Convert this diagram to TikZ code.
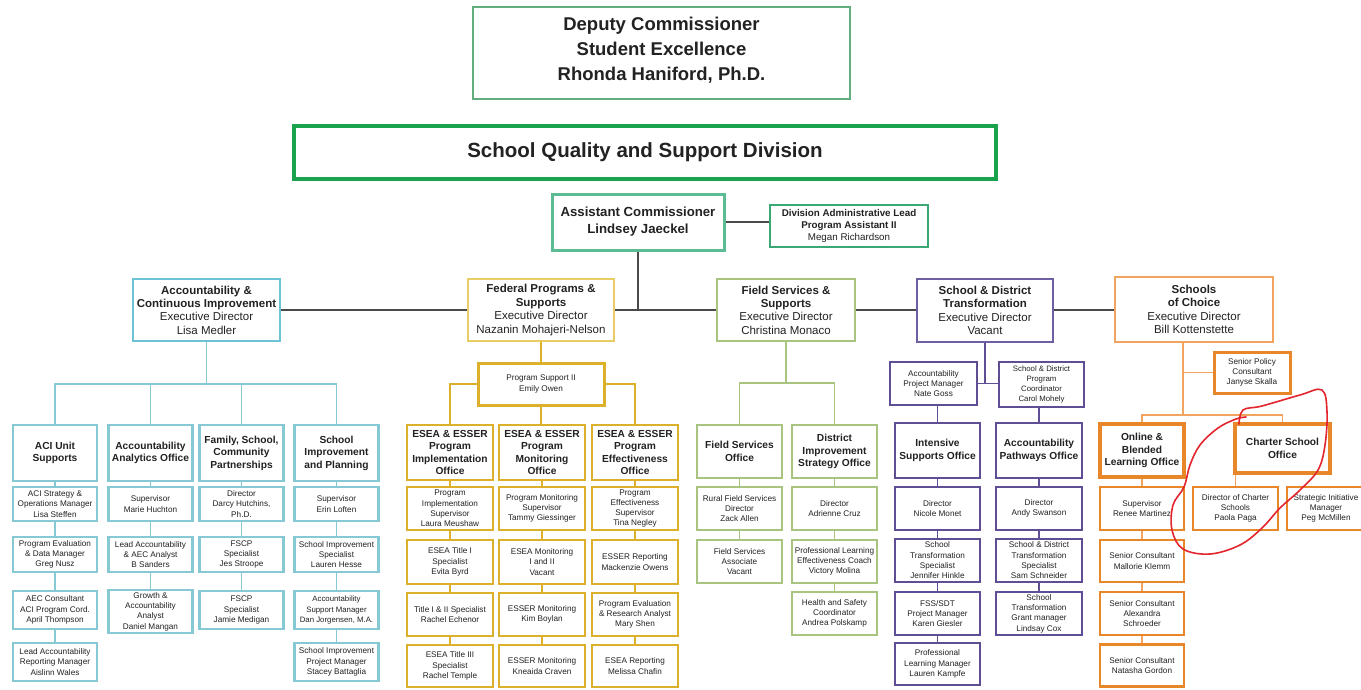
\documentclass[tikz,border=0pt]{standalone}
\usepackage{fontspec}
\setmainfont{Liberation Sans}
\definecolor{txt}{HTML}{222222}
\definecolor{depB}{HTML}{62AD7E}
\definecolor{sqdB}{HTML}{1BA24C}
\definecolor{ascB}{HTML}{5DBB94}
\definecolor{dalB}{HTML}{3AA775}
\definecolor{tealE}{HTML}{6CC3D3}
\definecolor{tealB}{HTML}{86C9D4}
\definecolor{goldE}{HTML}{E7CD63}
\definecolor{goldB}{HTML}{DDB02C}
\definecolor{fieldB}{HTML}{A8C47E}
\definecolor{purpE}{HTML}{6E5FA3}
\definecolor{purpB}{HTML}{5F4E96}
\definecolor{orgE}{HTML}{F1A45F}
\definecolor{orgB}{HTML}{E8872A}
\definecolor{busC}{HTML}{4A4A4A}
\definecolor{loopC}{HTML}{E3262E}
\tikzset{
 bx/.style={draw, fill=white, align=center, inner sep=0pt, text=txt},
 sm/.style={font=\fontsize{8.2}{10.3}\selectfont},
 hd/.style={font=\bfseries\fontsize{10.2}{12.6}\selectfont},
 ex/.style={font=\fontsize{11.5}{13.4}\selectfont},
 execbox/.style={bx, ex, line width=2.3pt, minimum height=62pt},
 tb/.style={bx, draw=tealB, line width=2.4pt, minimum width=84pt},
 gb/.style={bx, draw=goldB, line width=2.8pt, minimum width=86pt},
 fb/.style={bx, draw=fieldB, line width=2.8pt, minimum width=85pt},
 pb/.style={bx, draw=purpB, line width=2.8pt, minimum width=85pt},
 ob/.style={bx, draw=orgB, line width=3.2pt, minimum width=84pt},
 bus/.style={draw=busC, line width=1.3pt},
 tl/.style={draw=tealB, line width=1.5pt},
 gl/.style={draw=goldB, line width=1.5pt},
 fl/.style={draw=fieldB, line width=1.5pt},
 pl/.style={draw=purpB, line width=1.5pt},
 ol/.style={draw=orgE, line width=1.5pt},
}
\begin{document}
\begin{tikzpicture}[x=1pt,y=-1pt]
\useasboundingbox (0,0) rectangle (1361,689);
\fill[white] (0,0) rectangle (1361,689);

% ---------- top ----------
\node[bx, draw=depB, line width=2.6pt, minimum width=377pt, minimum height=92pt,
  font=\bfseries\fontsize{18.5}{25}\selectfont] (dep) at (661.5,53)
  {Deputy Commissioner\\Student Excellence\\Rhonda Haniford, Ph.D.\\[-17pt]\mbox{}};
\node[bx, draw=sqdB, line width=4.5pt, minimum width=702pt, minimum height=53pt,
  font=\bfseries\fontsize{20.5}{24}\selectfont] (sqd) at (645,152.5)
  {School Quality and Support Division};
\node[bx, draw=ascB, line width=3pt, minimum width=172pt, minimum height=56pt,
  font=\bfseries\fontsize{13.2}{17}\selectfont] (asc) at (638,222)
  {Assistant Commissioner\\Lindsey Jaeckel};
\node[bx, draw=dalB, line width=2.4pt, minimum width=158pt, minimum height=42pt,
  font=\fontsize{9.8}{11.6}\selectfont] (dal) at (849,226)
  {\textbf{Division Administrative Lead}\\\textbf{Program Assistant II}\\Megan Richardson};

% ---------- executive directors ----------
\node[execbox, draw=tealE, minimum width=147pt] (aci) at (206.5,310)
  {\textbf{Accountability \&}\\\textbf{Continuous Improvement}\\Executive Director\\Lisa Medler};
\node[execbox, draw=goldE, minimum width=146pt] (fps) at (541,310)
  {\textbf{Federal Programs \&}\\\textbf{Supports}\\Executive Director\\Nazanin Mohajeri-Nelson};
\node[execbox, draw=fieldB, line width=2.8pt, minimum width=138pt] (fss) at (786,310)
  {\textbf{Field Services \&}\\\textbf{Supports}\\Executive Director\\Christina Monaco};
\node[execbox, draw=purpE, line width=2.8pt, minimum width=136pt, minimum height=63pt] (sdt) at (985,310.5)
  {\textbf{School \& District}\\\textbf{Transformation}\\Executive Director\\Vacant};
\node[execbox, draw=orgE, minimum width=158pt, minimum height=65pt] (soc) at (1194,309.5)
  {\textbf{Schools}\\\textbf{of Choice}\\Executive Director\\Bill Kottenstette};

\draw[bus] (asc.east) -- (asc.east -| dal.west);
\draw[bus] (asc.south) -- (asc.south |- fps.east);
\draw[bus] (aci.east) -- (fps.west);
\draw[bus] (fps.east) -- (fss.west);
\draw[bus] (fss.east) -- (fss.east -| sdt.west);
\draw[bus] (sdt.west -| sdt.east) ++(0,-0.5) -- (soc.west |- fss.east);

% ---------- Accountability (teal) ----------
\node[tb,hd,minimum height=56pt] (t1h) at (55,453) {ACI Unit\\Supports};
\node[tb,hd,minimum height=56pt] (t2h) at (150.5,453) {Accountability\\Analytics Office};
\node[tb,hd,minimum height=56pt] (t3h) at (241.5,453) {Family, School,\\Community\\Partnerships};
\node[tb,hd,minimum height=56pt] (t4h) at (336.5,453) {School\\Improvement\\and Planning};

\node[tb,sm,minimum height=34pt] (t11) at (55,504) {ACI Strategy \&\\Operations Manager\\Lisa Steffen};
\node[tb,sm,minimum height=35pt] (t12) at (55,554.5) {Program Evaluation\\\& Data Manager\\Greg Nusz};
\node[tb,sm,minimum height=38pt] (t13) at (55,610) {AEC Consultant\\ACI Program Cord.\\April Thompson};
\node[tb,sm,minimum height=38pt] (t14) at (55,662) {Lead Accountability\\Reporting Manager\\Aislinn Wales};

\node[tb,sm,minimum height=34pt] (t21) at (150.5,504) {Supervisor\\Marie Huchton};
\node[tb,sm,minimum height=35pt] (t22) at (150.5,554.5) {Lead Accountability\\\& AEC Analyst\\B Sanders};
\node[tb,sm,minimum height=43pt] (t23) at (150.5,611.5) {Growth \&\\Accountability\\Analyst\\Daniel Mangan};

\node[tb,sm,minimum height=34pt] (t31) at (241.5,504) {Director\\Darcy Hutchins,\\Ph.D.};
\node[tb,sm,minimum height=35pt] (t32) at (241.5,554.5) {FSCP\\Specialist\\Jes Stroope};
\node[tb,sm,minimum height=38pt] (t33) at (241.5,610) {FSCP\\Specialist\\Jamie Medigan};

\node[tb,sm,minimum height=34pt] (t41) at (336.5,504) {Supervisor\\Erin Loften};
\node[tb,sm,minimum height=35pt] (t42) at (336.5,554.5) {School Improvement\\Specialist\\Lauren Hesse};
\node[tb,sm,minimum height=38pt,font=\fontsize{7.8}{10.3}\selectfont] (t43) at (336.5,610) {Accountability\\Support Manager\\Dan Jorgensen, M.A.};
\node[tb,sm,minimum height=38pt] (t44) at (336.5,662) {School Improvement\\Project Manager\\Stacey Battaglia};

\coordinate (tbus) at (206.5,384);
\draw[tl] (aci.south) -- (tbus);
\draw[tl] (t1h.north) -- (t1h.north |- tbus) -- (t4h.north |- tbus) -- (t4h.north);
\draw[tl] (t2h.north) -- (t2h.north |- tbus);
\draw[tl] (t3h.north) -- (t3h.north |- tbus);
\foreach \a/\b in {t1h/t11,t11/t12,t12/t13,t13/t14,t2h/t21,t21/t22,t22/t23,
  t3h/t31,t31/t32,t32/t33,t4h/t41,t41/t42,t42/t43,t43/t44}
  \draw[tl] (\a.south) -- (\b.north);

% ---------- Federal (gold) ----------
\node[bx, sm, draw=goldB, line width=3pt, minimum width=126pt, minimum height=42pt] (ps) at (541,384)
  {Program Support II\\Emily Owen};
\draw[gl] (fps.south) -- (ps.north);

\node[gb,hd,minimum height=55pt] (g1h) at (450,452.5) {ESEA \& ESSER\\Program\\Implementation\\Office};
\node[gb,hd,minimum height=55pt] (g2h) at (542,452.5) {ESEA \& ESSER\\Program\\Monitoring\\Office};
\node[gb,hd,minimum height=55pt] (g3h) at (635,452.5) {ESEA \& ESSER\\Program\\Effectiveness\\Office};

\node[gb,sm,minimum height=43pt] (g11) at (450,508.5) {Program\\Implementation\\Supervisor\\Laura Meushaw};
\node[gb,sm,minimum height=44pt] (g12) at (450,562) {ESEA Title I\\Specialist\\Evita Byrd};
\node[gb,sm,minimum height=43pt] (g13) at (450,614.5) {Title I \& II Specialist\\Rachel Echenor};
\node[gb,sm,minimum height=42pt] (g14) at (450,666) {ESEA Title III\\Specialist\\Rachel Temple};

\node[gb,sm,minimum height=43pt] (g21) at (542,508.5) {Program Monitoring\\Supervisor\\Tammy Giessinger};
\node[gb,sm,minimum height=44pt] (g22) at (542,562) {ESEA Monitoring\\I and II\\Vacant};
\node[gb,sm,minimum height=43pt] (g23) at (542,614.5) {ESSER Monitoring\\Kim Boylan};
\node[gb,sm,minimum height=42pt] (g24) at (542,666) {ESSER Monitoring\\Kneaida Craven};

\node[gb,sm,minimum height=43pt] (g31) at (635,508.5) {Program\\Effectiveness\\Supervisor\\Tina Negley};
\node[gb,sm,minimum height=44pt] (g32) at (635,562) {ESSER Reporting\\Mackenzie Owens};
\node[gb,sm,minimum height=43pt] (g33) at (635,614.5) {Program Evaluation\\\& Research Analyst\\Mary Shen};
\node[gb,sm,minimum height=42pt] (g34) at (635,666) {ESEA Reporting\\Melissa Chafin};

\draw[gl] (ps.west) -| (g1h.north);
\draw[gl] (ps.east) -| (g3h.north);
\draw[gl] (ps.south) -- (ps.south |- g2h.north);
\foreach \a/\b in {g1h/g11,g11/g12,g12/g13,g13/g14,g2h/g21,g21/g22,g22/g23,g23/g24,
  g3h/g31,g31/g32,g32/g33,g33/g34}
  \draw[gl] (\a.south) -- (\b.north);

% ---------- Field Services (green) ----------
\node[fb,hd,minimum height=53pt] (f1h) at (739.5,451.5) {Field Services\\Office};
\node[fb,hd,minimum height=53pt] (f2h) at (834.5,451.5) {District\\Improvement\\Strategy Office};
\node[fb,sm,minimum height=43pt] (f11) at (739.5,508.5) {Rural Field Services\\Director\\Zack Allen};
\node[fb,sm,minimum height=43pt] (f12) at (739.5,561.5) {Field Services\\Associate\\Vacant};
\node[fb,sm,minimum height=43pt] (f21) at (834.5,508.5) {Director\\Adrienne Cruz};
\node[fb,sm,minimum height=43pt] (f22) at (834.5,561.5) {Professional Learning\\Effectiveness Coach\\Victory Molina};
\node[fb,sm,minimum height=43pt] (f23) at (834.5,613.5) {Health and Safety\\Coordinator\\Andrea Polskamp};

\coordinate (fbus) at (786,383);
\draw[fl] (fss.south) -- (fbus);
\draw[fl] (f1h.north) -- (f1h.north |- fbus) -- (f2h.north |- fbus) -- (f2h.north);
\foreach \a/\b in {f1h/f11,f11/f12,f2h/f21,f21/f22,f22/f23}
  \draw[fl] (\a.south) -- (\b.north);

% ---------- School & District Transformation (purple) ----------
\node[pb,sm,minimum width=87pt,minimum height=43pt] (nate) at (933.5,383.5) {Accountability\\Project Manager\\Nate Goss};
\node[pb,sm,minimum height=45pt,font=\fontsize{7.8}{9.8}\selectfont] (carol) at (1041.5,384.5) {School \& District\\Program\\Coordinator\\Carol Mohely};
\node[pb,hd,minimum height=55pt] (p1h) at (937.5,450.5) {Intensive\\Supports Office};
\node[pb,hd,minimum width=86pt,minimum height=55pt] (p2h) at (1039,450.5) {Accountability\\Pathways Office};

\node[pb,sm,minimum height=43pt] (p11) at (937.5,508.5) {Director\\Nicole Monet};
\node[pb,sm,minimum height=43pt] (p12) at (937.5,560.5) {School\\Transformation\\Specialist\\Jennifer Hinkle};
\node[pb,sm,minimum height=43pt] (p13) at (937.5,613.5) {FSS/SDT\\Project Manager\\Karen Giesler};
\node[pb,sm,minimum height=42pt] (p14) at (937.5,664) {Professional\\Learning Manager\\Lauren Kampfe};

\node[pb,sm,minimum width=86pt,minimum height=43pt] (p21) at (1039,508.5) {Director\\Andy Swanson};
\node[pb,sm,minimum width=86pt,minimum height=43pt] (p22) at (1039,560.5) {School \& District\\Transformation\\Specialist\\Sam Schneider};
\node[pb,sm,minimum width=86pt,minimum height=43pt] (p23) at (1039,613.5) {School\\Transformation\\Grant manager\\Lindsay Cox};

\coordinate (pbus) at (985,383.5);
\draw[pl] (sdt.south) -- (pbus);
\draw[pl] (nate.east) -- (carol.west |- nate.east);
\draw[pl] (p1h.north |- nate.south) -- (p1h.north);
\draw[pl] (p2h.north |- carol.south) -- (p2h.north);
\foreach \a/\b in {p1h/p11,p11/p12,p12/p13,p13/p14,p2h/p21,p21/p22,p22/p23}
  \draw[pl] (\a.south) -- (\b.north);

% ---------- Schools of Choice (orange) ----------
\node[bx, sm, draw=orgB, line width=3pt, minimum width=76pt, minimum height=41pt] (spc) at (1252,372.5)
  {Senior Policy\\Consultant\\Janyse Skalla};
\node[ob,hd,minimum height=53pt] (o1h) at (1142,450.5) {Online \&\\Blended\\Learning Office};
\node[ob,hd,minimum width=95pt,minimum height=49pt] (o2h) at (1282.5,448.5) {Charter School\\Office};

\node[ob,sm,line width=2.8pt,minimum height=43pt] (o11) at (1142,508.5) {Supervisor\\Renee Martinez};
\node[ob,sm,line width=2.8pt,minimum height=42pt] (o12) at (1142,561) {Senior Consultant\\Mallorie Klemm};
\node[ob,sm,line width=2.8pt,minimum height=43pt] (o13) at (1142,613.5) {Senior Consultant\\Alexandra\\Schroeder};
\node[ob,sm,line width=2.8pt,minimum height=42pt] (o14) at (1142,665.5) {Senior Consultant\\Natasha Gordon};
\node[ob,sm,line width=2.8pt,minimum width=85pt,minimum height=43pt] (o21) at (1235.5,508.5) {Director of Charter\\Schools\\Paola Paga};
\node[ob,sm,line width=2.8pt,minimum width=78pt,minimum height=43pt] (o22) at (1326,508.5) {Strategic Initiative\\Manager\\Peg McMillen};

\coordinate (obus) at (1183,415);
\draw[ol] (soc.south -| obus) -- (obus);
\draw[ol] (spc.west -| obus) -- (spc.west);
\draw[ol] (o1h.north) -- (o1h.north |- obus) -- (o2h.north |- obus) -- (o2h.north);
\draw[ol] (o21.north |- o2h.south) -- (o21.north);
\foreach \a/\b in {o1h/o11,o11/o12,o12/o13,o13/o14}
  \draw[ol] (\a.south) -- (\b.north);

% ---------- hand-drawn red loop ----------
\draw[loopC, line width=1.6pt, line cap=round] plot[smooth, tension=0.6] coordinates {
  (1239,424) (1243,410) (1262,406) (1300,395) (1322,390) (1327,412) (1325,445)
  (1318,470) (1300,490) (1280,508) (1262,528) (1240,545) (1210,554) (1183,549)
  (1172,530) (1173,505) (1184,487) (1190,465) (1200,445) (1218,428) (1236,419) (1246,417)};
\end{tikzpicture}
\end{document}
